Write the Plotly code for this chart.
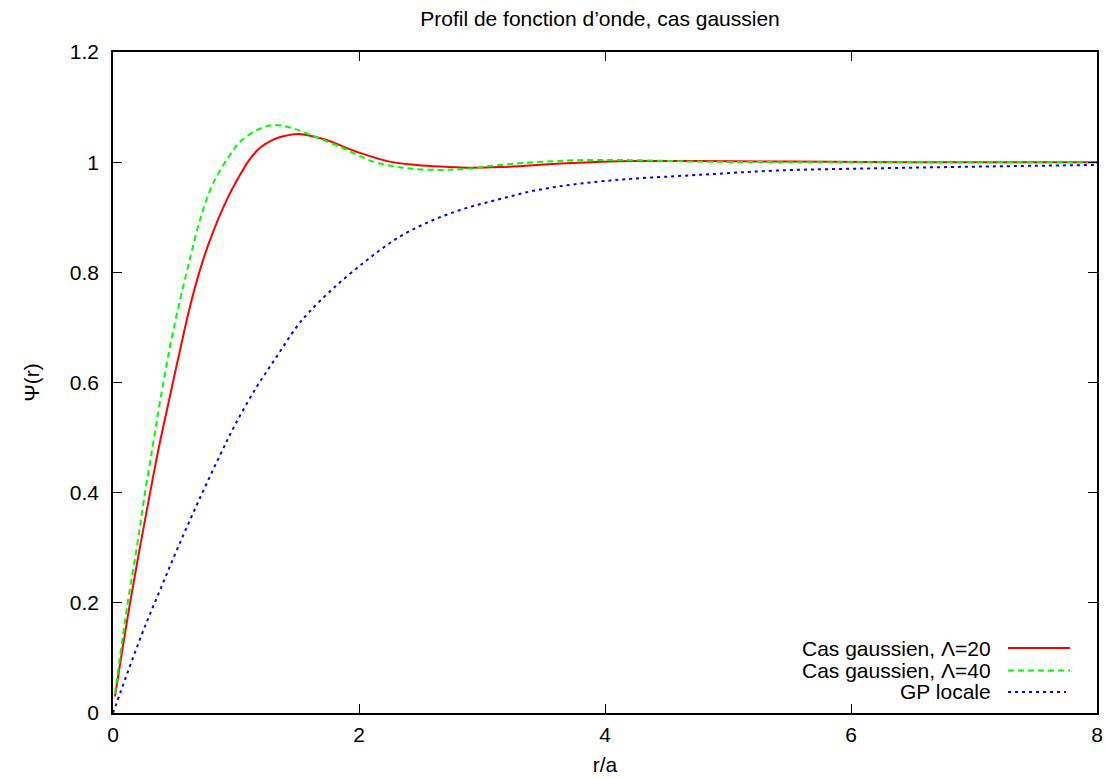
import plotly.graph_objects as go

# ---- data ----
r_red = [0.016, 0.138, 0.22, 0.295, 0.368, 0.45, 0.545, 0.626, 0.707, 0.789, 0.924, 1.033, 1.114,
         1.195, 1.303, 1.40, 1.507, 1.71, 1.98, 2.25, 2.47, 2.66, 2.876, 3.146, 3.689, 4.23, 4.77, 5.5, 6.5, 8.0]
psi_red = [0.030, 0.199, 0.302, 0.392, 0.477, 0.562, 0.659, 0.738, 0.804, 0.859, 0.931, 0.977, 1.006,
           1.026, 1.041, 1.048, 1.051, 1.042, 1.019, 1.001, 0.995, 0.992, 0.990, 0.991, 0.998, 1.002, 1.002, 1.001, 1.000, 1.000]

r_green = [0.016, 0.116, 0.193, 0.25, 0.323, 0.382, 0.463, 0.545, 0.599, 0.64, 0.707, 0.815, 0.978,
           1.033, 1.168, 1.303, 1.439, 1.575, 1.846, 2.116, 2.388, 2.66, 2.876, 3.146, 3.689, 4.095,
           4.77, 5.5, 6.5, 8.0]
psi_green = [0.035, 0.195, 0.300, 0.385, 0.485, 0.565, 0.665, 0.750, 0.800, 0.838, 0.895, 0.962, 1.022,
             1.037, 1.058, 1.0675, 1.063, 1.052, 1.028, 1.001, 0.989, 0.986, 0.988, 0.995, 1.003, 1.004,
             1.001, 1.000, 1.000, 1.000]

r_blue = [0.0, 0.233, 0.382, 0.531, 0.70, 0.87, 0.992, 1.168, 1.331, 1.493, 1.60, 1.791, 2.063,
          2.333, 2.604, 2.876, 3.146, 3.417, 3.689, 3.96, 4.23, 4.77, 5.42, 6.24, 7.05, 8.0]
psi_blue = [0.0, 0.142, 0.223, 0.302, 0.387, 0.468, 0.523, 0.592, 0.647, 0.701, 0.729, 0.771, 0.822,
            0.865, 0.895, 0.917, 0.933, 0.948, 0.958, 0.965, 0.970, 0.977, 0.985, 0.989, 0.992, 0.995]

names = ["Cas gaussien, \u039b=20", "Cas gaussien, \u039b=40", "GP locale"]
x_ticks = [0, 2, 4, 6, 8]
y_ticks = [0, 0.2, 0.4, 0.6, 0.8, 1, 1.2]
y_tick_text = ["0", "0.2", "0.4", "0.6", "0.8", "1", "1.2"]

# ---- styles ----
colors = ["#ff0000", "#00ff00", "#0000ff"]
dashes = ["solid", "6px,4px", "3px,4px"]
FONT = "Liberation Sans, Arial, Helvetica, sans-serif"
FS = 21

fig = go.Figure()
series = [(r_red, psi_red), (r_green, psi_green), (r_blue, psi_blue)]
for (xs, ys), nm, c, d in zip(series, names, colors, dashes):
    fig.add_trace(go.Scatter(x=xs, y=ys, mode="lines", name=nm,
                             line=dict(color=c, width=2, dash=d, shape="spline", smoothing=1.0),
                             showlegend=False))

# gnuplot-style key (text right-aligned, sample on the right)
key_y = [0.0983, 0.0643, 0.0318]
sample_end = [0.9726, 0.9726, 0.9685]
for nm, c, d, ky, se in zip(names, colors, dashes, key_y, sample_end):
    fig.add_annotation(x=0.894, y=ky, xref="paper", yref="paper", text=nm, showarrow=False,
                       xanchor="right", yanchor="middle", font=dict(family=FONT, size=FS, color="black"))
    fig.add_shape(type="line", xref="paper", yref="paper", x0=0.9096, x1=se, y0=ky, y1=ky,
                  line=dict(color=c, width=2, dash=d))

axis_common = dict(showline=True, linecolor="black", linewidth=1.5, mirror="ticks",
                   ticks="inside", ticklen=9, tickwidth=1.2, tickcolor="black",
                   showgrid=False, zeroline=False, automargin=False,
                   tickfont=dict(family=FONT, size=FS, color="black"))

fig.update_xaxes(range=[0, 8], tickvals=x_ticks, ticktext=[str(v) for v in x_ticks],
                 title=dict(text="r/a", font=dict(family=FONT, size=FS, color="black"), standoff=12),
                 ticklabelstandoff=2, **axis_common)
fig.update_yaxes(range=[0, 1.2], tickvals=y_ticks, ticktext=y_tick_text,
                 title=dict(text="\u03a8(r)", font=dict(family=FONT, size=FS, color="black"), standoff=24),
                 ticklabelstandoff=8, **axis_common)

fig.update_layout(
    width=1105, height=778,
    margin=dict(l=113, r=8, t=52, b=65, autoexpand=False),
    paper_bgcolor="white", plot_bgcolor="white",
    title=dict(text="Profil de fonction d\u2019onde, cas gaussien", x=0.543, xanchor="center",
               yref="container", y=0.9756, yanchor="middle",
               font=dict(family=FONT, size=FS, color="black")),
)

fig.write_html("out.html", config={"displayModeBar": False},
               post_script="document.body.style.margin='0';document.body.style.padding='0';")
